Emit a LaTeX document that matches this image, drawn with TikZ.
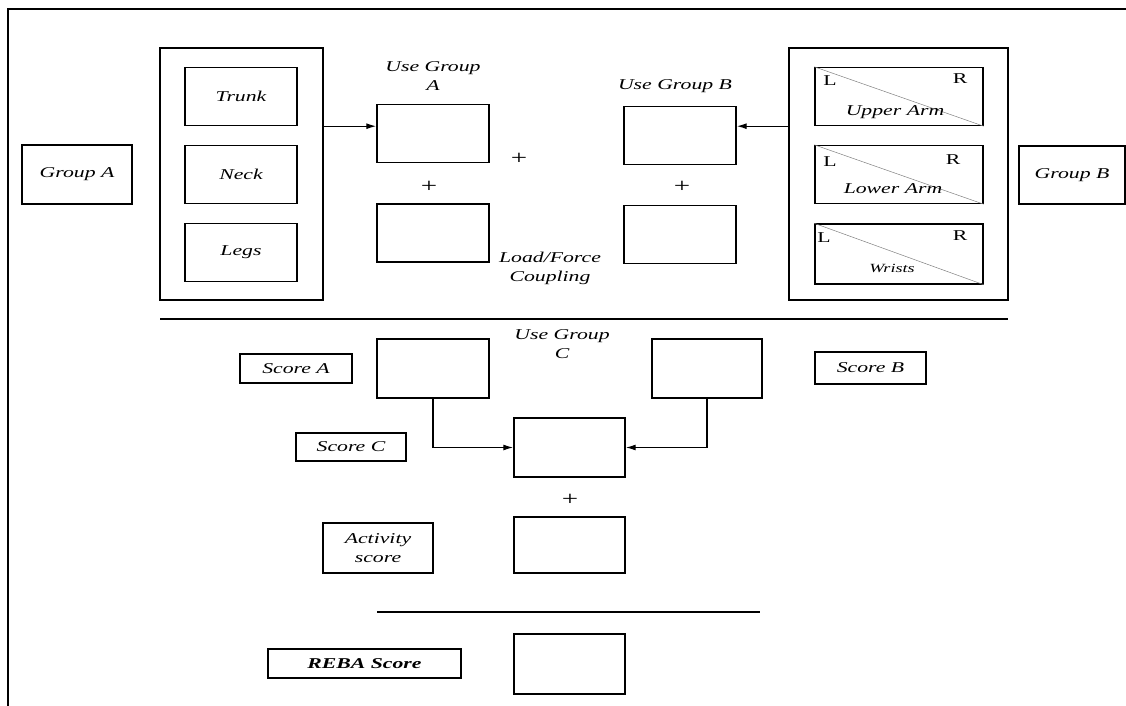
\documentclass[tikz,border=0pt]{standalone}
\usepackage{fontspec}
\newfontfamily\rebafont{Liberation Serif}[FakeStretch=1.45]
\usetikzlibrary{arrows.meta}
\tikzset{
  valbox/.style={draw,line width=1.4pt,inner sep=0pt,minimum width=112pt,minimum height=58pt},
  namebox/.style={draw,line width=1.4pt,inner sep=0pt,align=center},
  groupframe/.style={draw,line width=1.4pt,inner sep=0pt},
  armbox/.style={valbox,minimum width=168pt},
  diag/.style={gray,line width=0.5pt},
  rule/.style={line width=1.2pt},
  flow/.style={-{Latex[length=10pt,width=6pt]},line width=1.3pt},
  side/.style={font=\rebafont\upshape\fontsize{15}{16}\selectfont},
  plus/.style={font=\rebafont\upshape\fontsize{20}{20}\selectfont}
}

\begin{document}
\begin{tikzpicture}[x=1pt,y=-1pt,
  every node/.style={font=\rebafont\itshape\fontsize{15}{19}\selectfont}]
\useasboundingbox (0,0) rectangle (1126,706);

% outer frame (top and left only)
\coordinate (fbl) at (8,706);
\coordinate (ftl) at (8,9);
\coordinate (ftr) at (1126,9);
\draw[line width=1.4pt] (fbl) -- (ftl) -- (ftr);

% Group A side
\node[namebox,minimum width=110pt,minimum height=59pt] (groupA) at (77,174.5) {Group A};
\node[groupframe,minimum width=163pt,minimum height=252pt] (frameA) at (241.5,174) {};
\node[valbox] (trunk) at (241,96.5) {Trunk};
\node[valbox] (neck) at (241,174.5) {Neck};
\node[valbox] (legs) at (241,252.5) {Legs};

% Table A / Table B boxes
\node[align=center] (useAtxt) at (433,76.5) {Use Group\\A};
\node[valbox] (useA) at (433,133.5) {};
\node[valbox] (loadA) at (433,233) {};
\node (useBtxt) at (675,86) {Use Group B};
\node[valbox] (useB) at (680,135.5) {};
\node[valbox] (loadB) at (680,234.5) {};
\node[plus] (plusAB) at (519,159) {+};
\node[plus] (plusA) at (429,187) {+};
\node[plus] (plusB) at (682,187) {+};
\node[align=center] (loadtxt) at (550,268.5) {Load/Force\\Coupling};

% Group B side
\node[groupframe,minimum width=219pt,minimum height=252pt] (frameB) at (898.5,174) {};
\node[armbox] (upper) at (899,96.5) {};
\node[armbox] (lower) at (899,174.5) {};
\node[armbox,minimum height=60pt] (wrists) at (899,254) {};
\node[namebox,minimum width=106pt,minimum height=58pt] (groupB) at (1072,175) {Group B};

% split L/R boxes
\foreach \b in {upper,lower,wrists}
{
  \draw[diag] (\b.north west) -- (\b.south east);
}
\node[side] (upperL) at (830,81) {L};
\node[side] (upperR) at (960,79) {R};
\node (upperT) at (895,112) {Upper Arm};
\node[side] (lowerL) at (830,162) {L};
\node[side] (lowerR) at (953,160) {R};
\node (lowerT) at (893,189) {Lower Arm};
\node[side] (wristsL) at (824,238) {L};
\node[side] (wristsR) at (960,236) {R};
\node[font=\rebafont\itshape\fontsize{12.5}{14}\selectfont] (wristsT) at (892,268) {Wrists};

\draw[flow] (frameA.east |- trunk.south) -- (useA.west |- trunk.south);
\draw[flow] (frameB.west |- upper.south) -- (useB.east |- upper.south);

% divider
\coordinate (r1a) at (160,319);
\coordinate (r1b) at (1008,319);
\draw[rule] (r1a) -- (r1b);

% Table C
\node[namebox,minimum width=112pt,minimum height=29pt] (scoreA) at (296,368.5) {Score A};
\node[valbox,minimum height=59pt] (boxA) at (433,368.5) {};
\node[align=center] (useCtxt) at (562,344) {Use Group\\C};
\node[valbox,minimum width=110pt,minimum height=59pt] (boxB) at (707,368.5) {};
\node[namebox,minimum width=111pt,minimum height=32pt] (scoreB) at (870.5,368) {Score B};
\node[namebox,minimum width=110pt,minimum height=28pt] (scoreC) at (351,447) {Score C};
\node[valbox,minimum width=111pt,minimum height=59pt] (boxC) at (569.5,447.5) {};
\draw[flow] (boxA.south) |- (boxC.west);
\draw[flow] (boxB.south) |- (boxC.east);

% activity
\node[plus] (plusC) at (570,500) {+};
\node[namebox,minimum width=110pt,minimum height=50pt] (activity) at (378,548) {Activity\\score};
\node[valbox,minimum width=111pt,minimum height=56pt] (actbox) at (569.5,545) {};

% final score
\coordinate (r2a) at (377,612);
\coordinate (r2b) at (760,612);
\draw[rule] (r2a) -- (r2b);
\node[namebox,minimum width=193pt,minimum height=29pt,font=\rebafont\bfseries\itshape\fontsize{15}{18}\selectfont] (reba) at (364.5,663.5) {REBA Score};
\node[valbox,minimum width=111pt,minimum height=60pt] (rebabox) at (569.5,664) {};

\end{tikzpicture}
\end{document}
